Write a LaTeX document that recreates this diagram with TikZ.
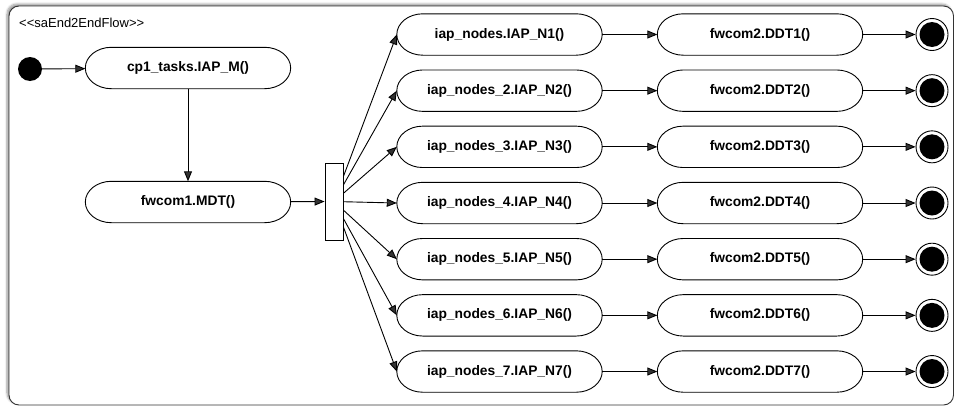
\documentclass[tikz,border=0pt]{standalone}
\usepackage{fontspec}
\setmainfont{Liberation Sans}
\usetikzlibrary{arrows.meta,shadows.blur}
% capsule outline with half-elliptical ends round a rectangular node
\newcommand\capsule[1]{%
  \draw[line width=0.9pt]
    ([xshift=26pt]#1.north west) -- ([xshift=-26pt]#1.north east)
    .. controls +(14.36,0) and +(0,-11.32) .. (#1.east)
    .. controls +(0,11.32) and +(14.36,0) .. ([xshift=-26pt]#1.south east)
    -- ([xshift=26pt]#1.south west)
    .. controls +(-14.36,0) and +(0,11.32) .. (#1.west)
    .. controls +(0,-11.32) and +(-14.36,0) .. ([xshift=26pt]#1.north west);}
\begin{document}
\begin{tikzpicture}[x=1pt,y=-1pt,
  act/.style={rectangle, minimum width=205pt, minimum height=41pt, inner sep=0pt,
    font=\fontsize{13.8}{15}\selectfont\bfseries},
  flow/.style={draw, line width=0.9pt, -{Triangle[length=10pt,width=8pt]}},
  startdot/.style={circle, fill=black, minimum size=24pt, inner sep=0pt},
  enddot/.style={circle, draw, line width=0.9pt, minimum size=32pt, inner sep=0pt,
    path picture={\fill[black] (path picture bounding box.center) circle (12.5pt);}},
  forkbar/.style={rectangle, draw, fill=white, line width=0.9pt,
    minimum width=18pt, minimum height=77pt, inner sep=0pt}]
\useasboundingbox (0,0) rectangle (955,407);

% enclosing activity frame
\draw[rounded corners=10pt, draw=black!80, line width=0.9pt, fill=white,
  blur shadow={shadow xshift=-2pt, shadow yshift=2pt, shadow blur steps=6}]
  (9,6) rectangle (953.5,405);
\node[anchor=west, font=\fontsize{13}{15}\selectfont, inner sep=0pt] (title)
  at (19,23) {{<}{<}saEnd2EndFlow{>}{>}};

% main line
\node[startdot] (init) at (30,69) {};
\node[act] (m) at (188,68) {cp1\_tasks.IAP\_M()};
\node[act] (mdt) at (188,202) {fwcom1.MDT()};
\node[forkbar] (fork) at (334,201.5) {};
\capsule{m}
\capsule{mdt}

\draw[flow] (init) -- (m);
\draw[flow] (m) -- (mdt);
\draw[flow] (mdt) -- (fork);

% parallel branches
\foreach \i/\name in {1/iap\_nodes,2/iap\_nodes\_2,3/iap\_nodes\_3,4/iap\_nodes\_4,
                      5/iap\_nodes\_5,6/iap\_nodes\_6,7/iap\_nodes\_7}{
  \pgfmathsetmacro{\yy}{34.5+56.17*(\i-1)}
  \node[act] (n\i) at (499.5,\yy) {\name.IAP\_N\i()};
  \node[act] (d\i) at (760,\yy) {fwcom2.DDT\i()};
  \node[enddot] (e\i) at (932,\yy) {};
  \capsule{n\i}
  \capsule{d\i}
  \draw[flow] (fork) -- (n\i.west);
  \draw[flow] (n\i) -- (d\i);
  \draw[flow] (d\i) -- (e\i);
}
\end{tikzpicture}
\end{document}
